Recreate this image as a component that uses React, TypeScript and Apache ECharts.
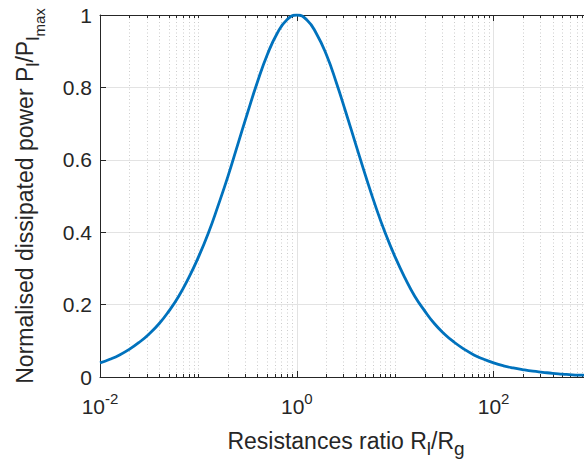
import React, { useEffect, useRef } from "react";
import * as echarts from "echarts";

const ratio = [
  0.01, 0.0126, 0.0158, 0.02, 0.0251, 0.0316, 0.0398, 0.0501, 0.0631, 0.0794,
  0.1, 0.126, 0.158, 0.2, 0.251, 0.316, 0.398, 0.501, 0.631, 0.794,
  1, 1.26, 1.58, 2, 2.51, 3.16, 3.98, 5.01, 6.31, 7.94,
  10, 12.6, 15.8, 20, 25.1, 31.6, 39.8, 50.1, 63.1, 79.4,
  100, 126, 158, 200, 251, 316, 398, 501, 631, 794, 1000,
];
const power = [
  0.039, 0.049, 0.061, 0.077, 0.096, 0.119, 0.147, 0.182, 0.223, 0.273,
  0.331, 0.397, 0.472, 0.555, 0.642, 0.73, 0.815, 0.89, 0.949, 0.987,
  1.0, 0.987, 0.949, 0.89, 0.815, 0.73, 0.642, 0.555, 0.472, 0.397,
  0.331, 0.273, 0.223, 0.182, 0.147, 0.119, 0.096, 0.077, 0.061, 0.049,
  0.039, 0.031, 0.025, 0.02, 0.016, 0.013, 0.01, 0.008, 0.006, 0.005, 0.004,
];
const majorTicks = [0.01, 1, 100];
const minorTicks = [
  0.02, 0.03, 0.04, 0.05, 0.06, 0.07, 0.08, 0.09,
  0.1, 0.2, 0.3, 0.4, 0.5, 0.6, 0.7, 0.8, 0.9,
  2, 3, 4, 5, 6, 7, 8, 9,
  10, 20, 30, 40, 50, 60, 70, 80, 90,
  200, 300, 400, 500, 600, 700, 800, 900,
];
const xName = "{m|Resistances ratio R}{s|l}{m|/R}{s|g}";
const yName = "{m|Normalised dissipated power P}{s|l}{m|/P}{s|l}{ss|max}";

const FONT = "'Liberation Sans', Arial, Helvetica, sans-serif";
const TXT = "#262626";

const nameRich = {
  m: { fontSize: 23, fontFamily: FONT, color: TXT, verticalAlign: "top", lineHeight: 23 },
  s: { fontSize: 19, fontFamily: FONT, color: TXT, verticalAlign: "top", padding: [10, 0, 0, 0], lineHeight: 29 },
  ss: { fontSize: 15, fontFamily: FONT, color: TXT, verticalAlign: "top", padding: [19, 0, 0, 0], lineHeight: 34 },
};

export default function App() {
  const ref = useRef<HTMLDivElement>(null);
  useEffect(() => {
    const chart = echarts.init(ref.current!, undefined, { renderer: "svg" });
    const base = {
      type: "log",
      logBase: 10,
      min: 0.01,
      max: 1000,
      gridIndex: 0,
    };
    const option = {
      animation: false,
      backgroundColor: "#ffffff",
      textStyle: { fontFamily: FONT },
      grid: { left: 100, right: 0, top: 15, bottom: 83, containLabel: false },
      xAxis: [
        {
          ...base,
          position: "bottom",
          name: xName,
          nameLocation: "middle",
          nameGap: 52,
          nameTextStyle: { fontFamily: FONT, rich: nameRich },
          axisLine: { show: true, lineStyle: { color: TXT, width: 1 } },
          axisTick: { show: true, inside: true, length: 6, customValues: majorTicks, lineStyle: { color: TXT } },
          axisLabel: {
            show: true,
            customValues: majorTicks,
            margin: 14,
            fontFamily: FONT,
            formatter: (v: number) => `{b|10}{p|${Math.round(Math.log10(v))}}`,
            rich: {
              b: { fontSize: 21, fontFamily: FONT, color: TXT, verticalAlign: "top", padding: [5, 0, 0, 0], lineHeight: 26 },
              p: { fontSize: 15, fontFamily: FONT, color: TXT, verticalAlign: "top", lineHeight: 15 },
            },
          },
          splitLine: { show: true, lineStyle: { color: "#e3e3e3", width: 1 } },
          minorTick: { show: false },
        },
        {
          ...base,
          position: "bottom",
          axisLine: { show: false },
          axisTick: { show: true, inside: true, length: 3, customValues: minorTicks, lineStyle: { color: TXT } },
          axisLabel: { show: false },
          splitLine: { show: true, lineStyle: { color: "#cccccc", width: 1, type: [1, 2.5] } },
        },
        {
          ...base,
          position: "top",
          axisLine: { show: true, lineStyle: { color: TXT, width: 1 } },
          axisTick: { show: true, inside: true, length: 6, customValues: majorTicks, lineStyle: { color: TXT } },
          axisLabel: { show: false },
          splitLine: { show: false },
        },
        {
          ...base,
          position: "top",
          axisLine: { show: false },
          axisTick: { show: true, inside: true, length: 3, customValues: minorTicks, lineStyle: { color: TXT } },
          axisLabel: { show: false },
          splitLine: { show: false },
        },
      ],
      yAxis: [
        {
          type: "value",
          min: 0,
          max: 1,
          interval: 0.2,
          position: "left",
          name: yName,
          nameLocation: "middle",
          nameGap: 53,
          nameTextStyle: { fontFamily: FONT, rich: nameRich },
          axisLine: { show: true, lineStyle: { color: TXT, width: 1 } },
          axisTick: { show: true, inside: true, length: 6, lineStyle: { color: TXT } },
          axisLabel: { show: true, fontSize: 21, fontFamily: FONT, color: TXT, margin: 8 },
          splitLine: { show: true, lineStyle: { color: "#e3e3e3", width: 1 } },
        },
      ],
      series: [
        {
          type: "line",
          xAxisIndex: 0,
          yAxisIndex: 0,
          data: ratio.map((r, i) => [r, power[i]]),
          showSymbol: false,
          smooth: 0.5,
          lineStyle: { color: "#0072BD", width: 2.8 },
          itemStyle: { color: "#0072BD" },
          z: 5,
        },
      ],
    };
    chart.setOption(option as any);
    return () => chart.dispose();
  }, []);
  return (
    <div
      ref={ref}
      style={{ position: "fixed", left: 0, top: 0, width: 592, height: 463, background: "#fff" }}
    />
  );
}
